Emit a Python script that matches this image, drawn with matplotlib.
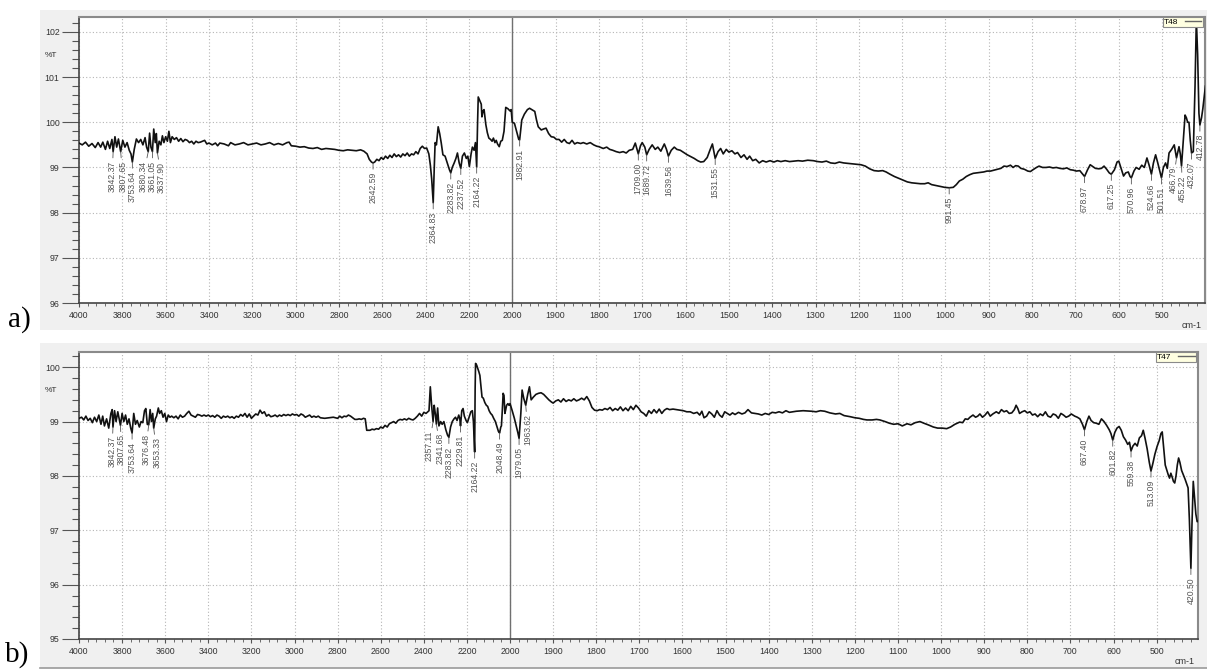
"""FTIR transmittance spectra of samples T48 (a) and T47 (b)."""

import numpy as np
import matplotlib

matplotlib.use("Agg")
import matplotlib.pyplot as plt
from matplotlib.patches import Rectangle
from matplotlib.ticker import FixedLocator, MultipleLocator, FormatStrFormatter

plt.rcParams["font.family"] = ["Liberation Sans", "DejaVu Sans"]

W, H = 1207, 672

# (wavenumber cm-1, %T)
A_SPECTRUM = [
    (4000, 99.54), (3985, 99.50), (3970, 99.56), (3955, 99.47), (3940, 99.53), (3925, 99.44),
    (3912, 99.55), (3900, 99.45), (3890, 99.56), (3878, 99.40), (3868, 99.58), (3858, 99.42),
    (3848, 99.62), (3842.37, 99.35), (3834, 99.68), (3826, 99.45), (3818, 99.63), (3807.65, 99.35),
    (3798, 99.60), (3788, 99.45), (3778, 99.55), (3768, 99.38), (3760, 99.30), (3753.64, 99.12),
    (3745, 99.40), (3735, 99.63), (3725, 99.55), (3715, 99.62), (3705, 99.50), (3695, 99.66),
    (3688, 99.45), (3680.34, 99.35), (3674, 99.76), (3668, 99.45), (3661.05, 99.35), (3655, 99.85),
    (3648, 99.55), (3643, 99.75), (3637.90, 99.32), (3630, 99.58), (3622, 99.50), (3615, 99.70),
    (3608, 99.55), (3600, 99.68), (3592, 99.58), (3585, 99.80), (3578, 99.55), (3570, 99.68),
    (3560, 99.62), (3550, 99.66), (3540, 99.58), (3530, 99.64), (3520, 99.57), (3510, 99.62),
    (3500, 99.60), (3490, 99.55), (3480, 99.58), (3470, 99.52), (3460, 99.58), (3450, 99.55),
    (3440, 99.56), (3420, 99.60), (3410, 99.52), (3400, 99.54), (3385, 99.50), (3370, 99.54),
    (3360, 99.48), (3350, 99.54), (3330, 99.52), (3310, 99.48), (3300, 99.55), (3280, 99.50),
    (3260, 99.52), (3240, 99.55), (3220, 99.50), (3200, 99.52), (3180, 99.54), (3160, 99.50),
    (3140, 99.52), (3120, 99.55), (3100, 99.50), (3080, 99.53), (3060, 99.50), (3040, 99.55),
    (3030, 99.56), (3020, 99.48), (3000, 99.47), (2980, 99.45), (2960, 99.46), (2940, 99.43),
    (2920, 99.42), (2900, 99.44), (2880, 99.40), (2860, 99.42), (2840, 99.41), (2820, 99.40),
    (2800, 99.38), (2780, 99.37), (2760, 99.39), (2740, 99.38), (2720, 99.37), (2700, 99.39),
    (2685, 99.36), (2670, 99.30), (2660, 99.18), (2650, 99.12), (2642.59, 99.10), (2635, 99.12),
    (2625, 99.18), (2615, 99.15), (2605, 99.22), (2595, 99.18), (2585, 99.25), (2575, 99.20),
    (2565, 99.27), (2555, 99.22), (2545, 99.30), (2535, 99.24), (2525, 99.28), (2515, 99.23),
    (2505, 99.30), (2495, 99.26), (2485, 99.32), (2475, 99.25), (2465, 99.30), (2455, 99.28),
    (2445, 99.35), (2435, 99.30), (2425, 99.42), (2415, 99.47), (2405, 99.42), (2395, 99.43),
    (2385, 99.30), (2378, 99.05), (2372, 98.75), (2364.83, 98.22), (2360, 99.00), (2356, 99.55),
    (2350, 99.50), (2342, 99.90), (2335, 99.75), (2328, 99.55), (2320, 99.28), (2310, 99.25),
    (2300, 99.10), (2290, 98.95), (2283.82, 98.88), (2277, 99.00), (2268, 99.10), (2260, 99.20),
    (2253, 99.32), (2245, 99.10), (2237.52, 98.98), (2230, 99.25), (2221, 99.32), (2212, 99.20),
    (2205, 99.25), (2198, 99.02), (2190, 99.30), (2184, 99.45), (2176, 99.38), (2170, 99.55),
    (2164.22, 99.01), (2160, 100.00), (2157, 100.56), (2150, 100.48), (2143, 100.40), (2140, 100.12),
    (2135, 100.25), (2130, 100.28), (2122, 99.95), (2115, 99.77), (2108, 99.65), (2100, 99.62),
    (2093, 99.58), (2087, 99.65), (2080, 99.55), (2074, 99.60), (2068, 99.52), (2060, 99.46),
    (2053, 99.58), (2046, 99.60), (2038, 99.80), (2030, 100.33), (2020, 100.30), (2010, 100.25),
    (2005, 100.28), (2000, 100.00), (1995, 99.98), (1990, 99.80), (1985, 99.62), (1982.91, 99.61),
    (1978, 100.05), (1972, 100.18), (1965, 100.28), (1960, 100.31), (1955, 100.28), (1948, 100.24),
    (1944, 100.05), (1940, 99.90), (1933, 99.83), (1928, 99.85), (1922, 99.87), (1916, 99.75),
    (1910, 99.68), (1904, 99.67), (1898, 99.62), (1892, 99.62), (1886, 99.56), (1880, 99.62),
    (1874, 99.55), (1868, 99.53), (1862, 99.60), (1856, 99.52), (1850, 99.55), (1842, 99.53),
    (1836, 99.55), (1828, 99.52), (1820, 99.55), (1812, 99.50), (1805, 99.47), (1800, 99.46),
    (1790, 99.42), (1782, 99.45), (1775, 99.40), (1768, 99.38), (1760, 99.35), (1752, 99.33),
    (1744, 99.35), (1737, 99.32), (1730, 99.38), (1722, 99.40), (1716, 99.54), (1709.00, 99.30),
    (1704, 99.48), (1700, 99.55), (1694, 99.45), (1689.72, 99.28), (1684, 99.40), (1677, 99.50),
    (1670, 99.40), (1664, 99.45), (1657, 99.36), (1649, 99.52), (1644, 99.40), (1639.56, 99.25),
    (1633, 99.38), (1626, 99.45), (1620, 99.40), (1612, 99.38), (1604, 99.33), (1596, 99.28),
    (1588, 99.24), (1580, 99.20), (1572, 99.15), (1565, 99.12), (1558, 99.13), (1550, 99.22),
    (1543, 99.40), (1538, 99.52), (1531.55, 99.20), (1525, 99.35), (1519, 99.42), (1513, 99.30),
    (1506, 99.40), (1500, 99.34), (1493, 99.37), (1486, 99.30), (1480, 99.33), (1472, 99.22),
    (1465, 99.28), (1458, 99.18), (1452, 99.25), (1445, 99.15), (1438, 99.18), (1430, 99.10),
    (1422, 99.15), (1414, 99.12), (1405, 99.15), (1396, 99.12), (1388, 99.15), (1380, 99.13),
    (1370, 99.15), (1360, 99.13), (1350, 99.14), (1340, 99.15), (1330, 99.14), (1318, 99.16),
    (1305, 99.15), (1295, 99.13), (1285, 99.12), (1275, 99.14), (1265, 99.10), (1255, 99.09),
    (1245, 99.12), (1235, 99.10), (1225, 99.09), (1215, 99.08), (1205, 99.07), (1195, 99.06),
    (1185, 99.03), (1175, 98.97), (1165, 98.93), (1155, 98.92), (1145, 98.93), (1137, 98.90),
    (1128, 98.85), (1118, 98.80), (1108, 98.76), (1098, 98.72), (1088, 98.68), (1078, 98.66),
    (1068, 98.65), (1058, 98.64), (1048, 98.64), (1040, 98.66), (1032, 98.62), (1022, 98.60),
    (1012, 98.58), (1002, 98.56), (991.45, 98.55), (982, 98.56), (975, 98.62), (968, 98.70),
    (960, 98.74), (952, 98.80), (944, 98.84), (936, 98.87), (928, 98.88), (920, 98.89),
    (912, 98.90), (904, 98.92), (896, 98.92), (888, 98.94), (880, 98.96), (872, 98.98),
    (865, 99.03), (858, 99.02), (850, 99.05), (844, 99.00), (838, 99.04), (832, 99.03),
    (826, 98.98), (818, 98.96), (810, 98.92), (804, 98.91), (798, 98.95), (790, 99.00),
    (784, 99.03), (776, 99.00), (768, 99.00), (760, 99.01), (752, 98.99), (744, 99.00),
    (736, 98.98), (728, 98.97), (720, 98.99), (712, 98.95), (705, 98.94), (698, 98.92),
    (690, 98.93), (684, 98.86), (678.97, 98.80), (672, 98.95), (666, 99.06), (660, 99.02),
    (654, 98.98), (646, 98.97), (640, 98.98), (634, 99.03), (628, 98.96), (622, 98.88),
    (617.25, 98.85), (610, 98.95), (604, 99.12), (600, 99.14), (594, 98.96), (589, 98.81),
    (584, 98.88), (578, 98.90), (574, 98.80), (570.96, 98.77), (565, 98.92), (560, 99.00),
    (553, 98.96), (547, 99.05), (541, 99.00), (535, 99.21), (530, 99.05), (524.66, 98.85),
    (520, 99.10), (515, 99.28), (510, 99.10), (505, 98.90), (501.51, 98.77), (497, 99.00),
    (492, 99.10), (488, 98.98), (484, 99.32), (478, 99.40), (472, 99.50), (466.79, 99.21),
    (461, 99.46), (458, 99.30), (455.22, 99.03), (451, 99.60), (447, 100.16), (444, 100.10),
    (441, 100.00), (438, 100.00), (435, 99.60), (432.07, 99.32), (428, 99.35), (424, 100.80),
    (421, 102.28), (418, 101.50), (415, 100.20), (412.78, 99.94), (409, 100.10), (406, 100.30),
    (403, 100.55), (400, 100.80),
]

B_SPECTRUM = [
    (4000, 99.06), (3988, 99.08), (3978, 99.03), (3968, 99.10), (3958, 99.02), (3948, 99.06),
    (3938, 98.98), (3928, 99.08), (3918, 99.00), (3908, 99.12), (3898, 98.95), (3890, 99.10),
    (3882, 98.92), (3872, 99.05), (3862, 98.88), (3852, 99.15), (3846, 99.22), (3842.37, 98.90),
    (3835, 99.20), (3828, 99.00), (3820, 99.18), (3807.65, 98.93), (3800, 99.15), (3792, 99.00),
    (3784, 99.12), (3776, 98.95), (3768, 99.05), (3760, 98.88), (3753.64, 98.79), (3746, 99.15),
    (3738, 98.95), (3730, 99.02), (3720, 98.90), (3712, 99.00), (3704, 98.98), (3696, 99.20),
    (3690, 99.24), (3683, 98.95), (3676.48, 98.94), (3670, 99.22), (3664, 99.00), (3658, 99.15),
    (3653.33, 98.88), (3646, 99.05), (3640, 99.10), (3632, 99.25), (3626, 99.15), (3618, 99.20),
    (3610, 99.08), (3602, 99.15), (3594, 99.00), (3586, 99.12), (3578, 99.08), (3570, 99.10),
    (3560, 99.07), (3550, 99.10), (3540, 99.05), (3530, 99.12), (3520, 99.08), (3510, 99.10),
    (3500, 99.15), (3490, 99.19), (3480, 99.12), (3470, 99.10), (3460, 99.08), (3450, 99.13),
    (3440, 99.12), (3430, 99.10), (3420, 99.12), (3410, 99.10), (3400, 99.12), (3390, 99.09),
    (3380, 99.11), (3370, 99.08), (3360, 99.12), (3350, 99.10), (3340, 99.06), (3330, 99.10),
    (3320, 99.08), (3310, 99.10), (3300, 99.07), (3290, 99.09), (3280, 99.06), (3270, 99.10),
    (3260, 99.08), (3250, 99.13), (3240, 99.10), (3230, 99.15), (3220, 99.08), (3210, 99.14),
    (3200, 99.06), (3190, 99.10), (3180, 99.14), (3170, 99.12), (3160, 99.21), (3150, 99.15),
    (3140, 99.18), (3130, 99.10), (3120, 99.13), (3110, 99.09), (3100, 99.10), (3090, 99.12),
    (3080, 99.09), (3070, 99.12), (3060, 99.10), (3050, 99.13), (3040, 99.11), (3030, 99.13),
    (3020, 99.11), (3010, 99.14), (3000, 99.12), (2990, 99.13), (2980, 99.10), (2970, 99.14),
    (2960, 99.12), (2950, 99.08), (2940, 99.10), (2930, 99.12), (2920, 99.08), (2910, 99.10),
    (2900, 99.08), (2890, 99.10), (2880, 99.07), (2860, 99.06), (2840, 99.07), (2820, 99.08),
    (2800, 99.06), (2790, 99.10), (2780, 99.07), (2770, 99.10), (2760, 99.09), (2750, 99.12),
    (2740, 99.10), (2730, 99.07), (2720, 99.04), (2710, 99.04), (2700, 99.05), (2690, 99.04),
    (2680, 99.06), (2672, 99.05), (2665, 98.84), (2650, 98.84), (2640, 98.86), (2630, 98.85),
    (2620, 98.87), (2610, 98.86), (2600, 98.90), (2590, 98.88), (2580, 98.93), (2570, 98.90),
    (2560, 98.96), (2550, 98.98), (2540, 99.00), (2530, 98.97), (2520, 99.02), (2510, 99.04),
    (2500, 99.03), (2490, 99.05), (2480, 99.03), (2470, 99.06), (2460, 99.04), (2450, 99.03),
    (2440, 99.06), (2430, 99.10), (2420, 99.15), (2410, 99.10), (2400, 99.17), (2390, 99.15),
    (2382, 99.18), (2376, 99.20), (2370, 99.64), (2364, 99.30), (2357.11, 99.00), (2352, 99.30),
    (2347, 99.15), (2341.68, 98.95), (2336, 99.25), (2330, 98.92), (2322, 99.00), (2315, 98.95),
    (2307, 99.00), (2298, 98.85), (2290, 98.75), (2283.82, 98.71), (2276, 98.90), (2268, 99.00),
    (2260, 99.05), (2253, 99.08), (2246, 99.02), (2238, 99.12), (2233, 99.05), (2229.81, 98.92),
    (2224, 99.20), (2218, 99.24), (2212, 99.10), (2204, 99.02), (2198, 98.98), (2190, 99.08),
    (2182, 99.18), (2175, 99.20), (2170, 99.00), (2164.22, 98.44), (2162, 99.60), (2160, 100.07),
    (2155, 100.04), (2150, 99.98), (2145, 99.92), (2140, 99.85), (2135, 99.65), (2130, 99.45),
    (2124, 99.43), (2117, 99.35), (2110, 99.30), (2104, 99.28), (2097, 99.20), (2090, 99.15),
    (2083, 99.12), (2076, 99.06), (2068, 99.00), (2060, 98.90), (2054, 98.82), (2048.49, 98.79),
    (2043, 98.90), (2040, 98.92), (2036, 99.20), (2032, 99.52), (2028, 99.48), (2024, 99.15),
    (2020, 99.22), (2016, 99.30), (2010, 99.33), (2005, 99.30), (2000, 99.33), (1995, 99.20),
    (1990, 99.06), (1985, 98.90), (1982, 98.80), (1979.05, 98.69), (1975, 99.15), (1972, 99.58),
    (1968, 99.42), (1963.62, 99.30), (1959, 99.50), (1955, 99.64), (1951, 99.40), (1946, 99.45),
    (1940, 99.50), (1934, 99.52), (1928, 99.53), (1922, 99.50), (1916, 99.45), (1910, 99.40),
    (1904, 99.36), (1900, 99.34), (1894, 99.38), (1888, 99.40), (1882, 99.36), (1876, 99.42),
    (1870, 99.37), (1864, 99.40), (1858, 99.38), (1852, 99.42), (1846, 99.38), (1840, 99.40),
    (1834, 99.43), (1828, 99.40), (1822, 99.46), (1816, 99.38), (1810, 99.26), (1804, 99.21),
    (1798, 99.20), (1792, 99.22), (1786, 99.21), (1780, 99.24), (1774, 99.22), (1768, 99.26),
    (1762, 99.20), (1756, 99.24), (1750, 99.21), (1744, 99.27), (1738, 99.20), (1732, 99.25),
    (1726, 99.20), (1720, 99.28), (1714, 99.22), (1708, 99.30), (1702, 99.25), (1696, 99.18),
    (1690, 99.15), (1684, 99.10), (1678, 99.20), (1672, 99.15), (1666, 99.22), (1660, 99.16),
    (1654, 99.23), (1648, 99.15), (1642, 99.21), (1636, 99.24), (1630, 99.22), (1622, 99.23),
    (1614, 99.22), (1606, 99.21), (1598, 99.20), (1590, 99.18), (1582, 99.18), (1574, 99.15),
    (1566, 99.17), (1560, 99.12), (1555, 99.19), (1550, 99.07), (1544, 99.10), (1538, 99.18),
    (1532, 99.14), (1526, 99.08), (1520, 99.20), (1514, 99.12), (1508, 99.08), (1502, 99.18),
    (1496, 99.15), (1490, 99.12), (1484, 99.16), (1478, 99.13), (1470, 99.17), (1462, 99.14),
    (1455, 99.16), (1448, 99.22), (1440, 99.16), (1432, 99.15), (1424, 99.14), (1416, 99.12),
    (1408, 99.15), (1400, 99.13), (1392, 99.17), (1384, 99.16), (1376, 99.18), (1368, 99.16),
    (1360, 99.20), (1352, 99.17), (1344, 99.18), (1336, 99.19), (1320, 99.20), (1300, 99.19),
    (1290, 99.18), (1280, 99.20), (1270, 99.19), (1258, 99.16), (1245, 99.14), (1235, 99.15),
    (1225, 99.11), (1211, 99.09), (1200, 99.07), (1190, 99.06), (1180, 99.04), (1172, 99.03),
    (1160, 99.03), (1150, 99.04), (1142, 99.03), (1130, 99.00), (1120, 98.97), (1110, 98.95),
    (1100, 98.96), (1090, 98.92), (1079, 98.96), (1070, 98.94), (1060, 98.98), (1049, 99.00),
    (1040, 98.97), (1030, 98.94), (1018, 98.90), (1008, 98.88), (998, 98.88), (987, 98.87),
    (978, 98.90), (968, 98.95), (957, 98.99), (950, 98.98), (944, 99.05), (938, 99.04),
    (933, 99.08), (926, 99.12), (920, 99.08), (915, 99.10), (910, 99.14), (904, 99.08),
    (898, 99.12), (892, 99.18), (886, 99.10), (880, 99.14), (872, 99.18), (866, 99.15),
    (860, 99.22), (854, 99.18), (848, 99.20), (842, 99.15), (836, 99.16), (830, 99.22),
    (826, 99.30), (822, 99.24), (818, 99.15), (812, 99.18), (806, 99.20), (800, 99.16),
    (794, 99.18), (788, 99.12), (782, 99.14), (776, 99.09), (770, 99.14), (764, 99.11),
    (758, 99.18), (752, 99.10), (746, 99.08), (740, 99.14), (734, 99.12), (728, 99.06),
    (722, 99.15), (716, 99.12), (710, 99.08), (704, 99.10), (698, 99.14), (690, 99.10),
    (684, 99.08), (678, 99.05), (672, 98.95), (667.40, 98.85), (662, 99.00), (657, 99.10),
    (652, 99.02), (646, 98.98), (640, 98.97), (634, 98.95), (628, 99.05), (622, 99.00),
    (616, 98.93), (610, 98.85), (606, 98.78), (601.82, 98.66), (597, 98.80), (592, 98.88),
    (587, 98.91), (582, 98.84), (577, 98.72), (572, 98.66), (567, 98.58), (563, 98.62),
    (559.38, 98.46), (555, 98.55), (550, 98.60), (545, 98.55), (540, 98.70), (535, 98.74),
    (531, 98.84), (527, 98.70), (522, 98.50), (517, 98.25), (513.09, 98.09), (509, 98.22),
    (504, 98.40), (499, 98.54), (494, 98.65), (490, 98.78), (487, 98.81), (484, 98.55),
    (480, 98.20), (477, 98.12), (473, 98.02), (470, 97.96), (467, 98.05), (464, 97.98),
    (461, 97.90), (458, 97.87), (455, 98.00), (452, 98.20), (449, 98.33), (446, 98.25),
    (442, 98.10), (438, 98.02), (434, 97.94), (430, 97.85), (427, 97.78), (424, 97.20),
    (420.50, 96.30), (418, 97.10), (415, 97.90), (412, 97.60), (409, 97.30), (406, 97.16),
    (404, 97.16),
]

A_PEAKS = [3842.37, 3807.65, 3753.64, 3680.34, 3661.05, 3637.90, 2642.59, 2364.83, 2283.82,
           2237.52, 2164.22, 1982.91, 1709.00, 1689.72, 1639.56, 1531.55, 991.45, 678.97,
           617.25, 570.96, 524.66, 501.51, 466.79, 455.22, 432.07, 412.78]
B_PEAKS = [3842.37, 3807.65, 3753.64, 3676.48, 3653.33, 2357.11, 2341.68, 2283.82, 2229.81,
           2164.22, 2048.49, 1979.05, 1963.62, 667.40, 601.82, 559.38, 513.09, 420.50]

# sideways nudge (pixels) of crowded peak labels
A_NUDGE = {3842.37: -1, 3807.65: 2, 3680.34: -5, 3637.90: 4, 466.79: -3, 455.22: 1}
B_NUDGE = {3842.37: -1, 3807.65: 1, 3676.48: -3, 3653.33: 3,
           2357.11: -4, 2341.68: 4, 1963.62: 2}

X_MAJOR = list(range(4000, 2000, -200)) + list(range(2000, 400, -100))
X_MINOR = list(np.arange(4000, 2000, -40)) + list(np.arange(2000, 399, -20))


def fwd(w):
    w = np.asarray(w, dtype=float)
    return np.where(w > 2000, 2000 + (w - 2000) / 2, w)


def inv(u):
    u = np.asarray(u, dtype=float)
    return np.where(u > 2000, 2000 + (u - 2000) * 2, u)


def px_rect(left, top, right, bottom):
    """Figure-fraction rect from pixel edges (origin top-left)."""
    return [left / W, 1 - bottom / H, (right - left) / W, (bottom - top) / H]


def draw_panel(fig, rect, spectrum, peaks, nudge, ylim, xmin, name):
    ax = fig.add_axes(rect)
    wn, t = np.array(spectrum).T

    ax.set_xscale("function", functions=(fwd, inv))
    ax.plot(wn, t, color="#111111", lw=1.2, label=name, zorder=3)
    ax.axvline(2000, color="#707070", lw=1.0, zorder=2)

    ax.set_xlim(4000, xmin)
    ax.set_ylim(*ylim)

    ax.xaxis.set_major_locator(FixedLocator(X_MAJOR))
    ax.xaxis.set_minor_locator(FixedLocator(X_MINOR))
    ax.xaxis.set_major_formatter(FormatStrFormatter("%d"))
    ax.yaxis.set_major_locator(MultipleLocator(1))
    ax.yaxis.set_minor_locator(MultipleLocator(0.2))
    ax.yaxis.set_major_formatter(FormatStrFormatter("%d"))

    ax.tick_params(axis="x", which="major", direction="out", length=3, width=0.8,
                   color="#555555", labelsize=6.3, labelcolor="#333333", pad=2.5)
    ax.tick_params(axis="x", which="minor", direction="out", length=2, width=0.6, color="#555555")
    ax.tick_params(axis="y", which="major", direction="out", length=12, width=0.8,
                   color="#555555", labelsize=6.3, labelcolor="#333333", pad=2)
    ax.tick_params(axis="y", which="minor", direction="out", length=5, width=0.8, color="#555555")

    ax.grid(True, which="major", color="#b5b5b5", lw=0.8, linestyle=(0, (1, 2)))
    for side in ("top", "right"):
        ax.spines[side].set_color("#8a8a8a")
        ax.spines[side].set_linewidth(1.5)
    for side in ("left", "bottom"):
        ax.spines[side].set_color("#444444")
        ax.spines[side].set_linewidth(1.2)

    # peak labels hanging below the curve
    for p in peaks:
        y = np.interp(p, wn[::-1], t[::-1])
        ax.annotate(f"{p:.2f}", xy=(p, y), xytext=(nudge.get(p, 0), -9),
                    textcoords="offset pixels", rotation=90, ha="center", va="top",
                    fontsize=6.2, color="#555555",
                    arrowprops=dict(arrowstyle="-", color="#555555", lw=0.6,
                                    shrinkA=0, shrinkB=0))

    ax.text(-0.019, 0.865, "%T", transform=ax.transAxes, ha="right", va="center",
            fontsize=6, color="#333333")
    ax.annotate("cm-1", xy=(1, 0), xycoords="axes fraction", xytext=(-3, -22),
                textcoords="offset pixels", ha="right", va="center", fontsize=6.5, color="#333333")

    leg = ax.legend(loc="upper right", bbox_to_anchor=(0.998, 1.0), borderaxespad=0,
                    fontsize=6, markerfirst=False, handlelength=2.0, handletextpad=0.8,
                    borderpad=0.15, fancybox=False, framealpha=1)
    leg.get_frame().set_facecolor("#ffffe1")
    leg.get_frame().set_edgecolor("#8a8a8a")
    leg.get_frame().set_linewidth(0.8)
    for line in leg.get_lines():
        line.set_color("#666666")
        line.set_linewidth(1.0)
    return ax


fig = plt.figure(figsize=(W / 100, H / 100), dpi=100)

# grey panel backgrounds, kept behind the axes
fig.patches.append(Rectangle((40 / W, 1 - 330 / H), 1167 / W, 320 / H, transform=fig.transFigure,
                             facecolor="#f0f0f0", edgecolor="none", zorder=-2))
fig.patches.append(Rectangle((40 / W, 1 - 668 / H), 1167 / W, 325 / H, transform=fig.transFigure,
                             facecolor="#f0f0f0", edgecolor="none", zorder=-2))
fig.add_artist(plt.Line2D([40 / W, 1], [1 - 668 / H, 1 - 668 / H], transform=fig.transFigure,
                          color="#9a9a9a", lw=1.2, zorder=-1))

draw_panel(fig, px_rect(79, 17, 1205, 303), A_SPECTRUM, A_PEAKS, A_NUDGE, (96, 102.33), 401, "T48")
draw_panel(fig, px_rect(79, 352, 1198, 639), B_SPECTRUM, B_PEAKS, B_NUDGE, (95, 100.28), 404, "T47")

fig.text(8 / W, 1 - 320 / H, "a)", fontsize=21, family="Liberation Serif", va="center")
fig.text(5 / W, 1 - 655 / H, "b)", fontsize=21, family="Liberation Serif", va="center")

fig.savefig("out.png", dpi=100)
